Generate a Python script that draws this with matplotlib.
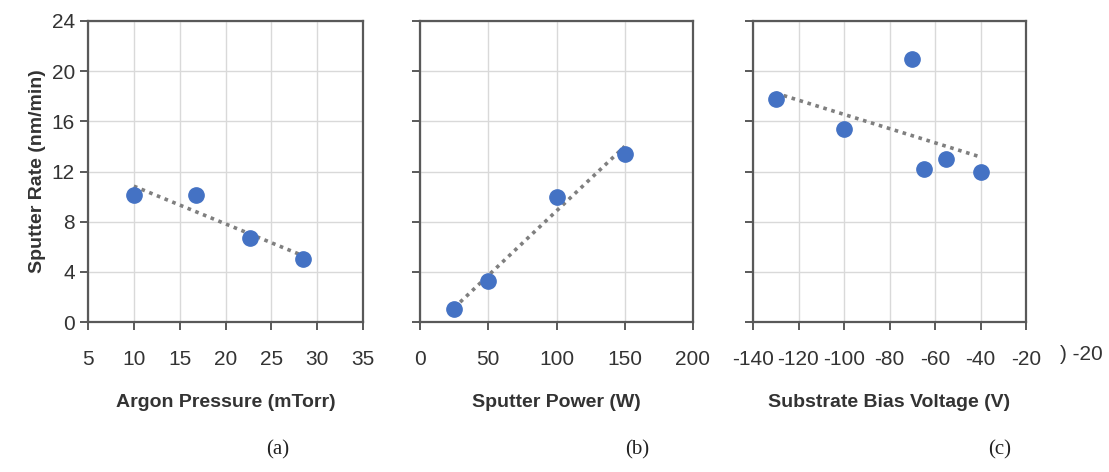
import matplotlib.pyplot as plt
import numpy as np

# panel (a): argon pressure
pressure = [10, 16.8, 22.7, 28.5]
rate_a = [10.1, 10.1, 6.7, 5.0]
# panel (b): sputter power
power = [25, 50, 100, 150]
rate_b = [1.0, 3.3, 10.0, 13.4]
# panel (c): substrate bias voltage
bias = [-130, -100, -70, -65, -55, -40]
rate_c = [17.8, 15.4, 21.0, 12.2, 13.0, 12.0]

xlabels = ["Argon Pressure (mTorr)", "Sputter Power (W)", "Substrate Bias Voltage (V)"]
xlims = [(5, 35), (0, 200), (-140, -20)]
xticks = [np.arange(5, 36, 5), np.arange(0, 201, 50), np.arange(-140, -19, 20)]
panel_tags = ["(a)", "(b)", "(c)"]

plt.rcParams['font.family'] = ['Liberation Sans Narrow', 'Liberation Sans', 'DejaVu Sans']
plt.rcParams['axes.unicode_minus'] = False

fig = plt.figure(figsize=(11.09, 4.72), dpi=100)
W, H = 1109, 472
boxes = [(88, 363), (420, 693), (753, 1026)]
top, bottom = 21, 322

blue = '#4472C4'
data = [(pressure, rate_a), (power, rate_b), (bias, rate_c)]

for i, ((x, y), (l, r)) in enumerate(zip(data, boxes)):
    ax = fig.add_axes([l / W, 1 - bottom / H, (r - l) / W, (bottom - top) / H])
    ax.grid(True, color='#d9d9d9', linewidth=1.0)
    ax.set_axisbelow(True)
    # linear trendline, like the spreadsheet default
    k, b = np.polyfit(x, y, 1)
    tx = np.array([min(x), max(x)])
    ax.plot(tx, k * tx + b, linestyle=(0, (1, 1.3)), color='#7f7f7f', linewidth=2.6, zorder=2)
    ax.plot(x, y, 'o', color=blue, markersize=11, zorder=3)
    ax.set_xlim(*xlims[i])
    ax.set_xticks(xticks[i])
    ax.set_ylim(0, 24)
    ax.set_yticks(np.arange(0, 25, 4))
    for s in ax.spines.values():
        s.set_color('#595959')
        s.set_linewidth(1.6)
    ax.tick_params(axis='both', direction='out', length=6, width=1.4, color='#595959',
                   labelsize=15, labelcolor='#333333')
    ax.tick_params(axis='x', pad=14)
    if i > 0:
        ax.tick_params(axis='y', labelleft=False)
    else:
        ax.set_ylabel("Sputter Rate (nm/min)", fontsize=14, fontweight='bold',
                      color='#333333', labelpad=4, family=['Liberation Sans', 'DejaVu Sans'])
    ax.set_xlabel(xlabels[i], fontsize=14, fontweight='bold', color='#333333',
                  labelpad=18, family=['Liberation Sans', 'DejaVu Sans'])

fig.text(1060 / W, 1 - 355 / H, ") -20", fontsize=15, ha='left', va='center', color='#333333')
for tag, xc in zip(panel_tags, [278, 637, 1000]):
    fig.text(xc / W, 1 - 450 / H, tag, fontsize=15, ha='center', va='center',
             color='#222222', family=['Liberation Serif', 'DejaVu Serif'])

fig.savefig("out.png", dpi=100)
